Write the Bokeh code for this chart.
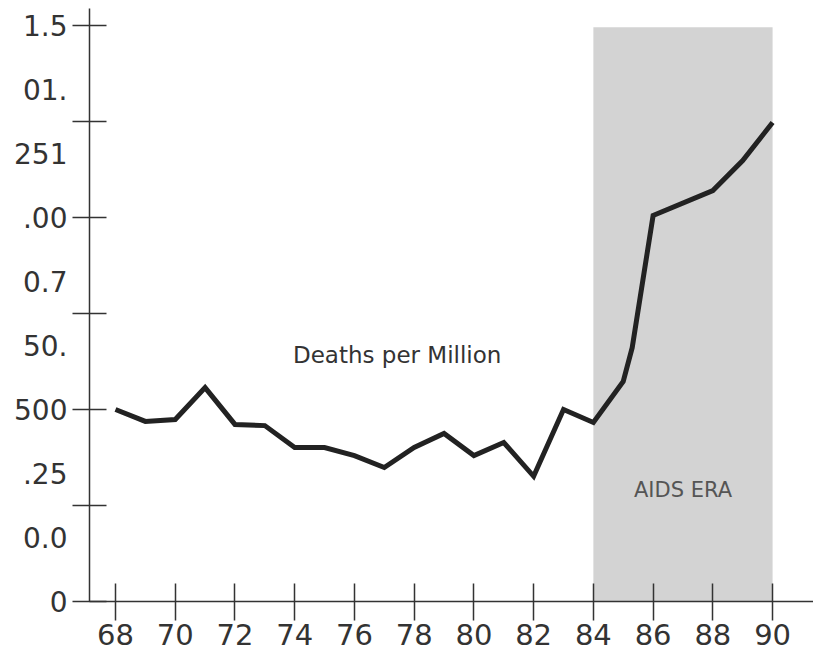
from bokeh.plotting import figure
from bokeh.models import FixedTicker, Range1d
from bokeh.core.properties import value
from bokeh.embed import file_html
from bokeh.resources import INLINE

years = [68, 69, 70, 71, 72, 73, 74, 75, 76, 77, 78, 79, 80, 81, 82, 83, 84, 85, 85.3, 86, 88, 89, 90]
deaths = [0.500, 0.469, 0.474, 0.557, 0.461, 0.458, 0.401, 0.401, 0.380, 0.349, 0.401, 0.4375,
          0.380, 0.414, 0.326, 0.500, 0.466, 0.573, 0.661, 1.005, 1.070, 1.148, 1.247]

x_ticks = [68, 70, 72, 74, 76, 78, 80, 82, 84, 86, 88, 90]
y_label_pos = [k / 6 for k in range(10)]
y_labels = ["0", "0.0", ".25", "500", "50.", "0.7", ".00", "251", "01.", "1.5"]
y_tick_marks = [0, 0.25, 0.5, 0.75, 1.0, 1.25, 1.5]

era_start, era_end, era_top = 84, 90, 1.495
era_label = "AIDS ERA"
title_text = "Deaths per Million"

FONT = "DejaVu Sans"

p = figure(width=813, height=650, output_backend="svg", toolbar_location=None,
           x_range=Range1d(67.13, 91.37), y_range=Range1d(0, 1.544),
           min_border_left=89, min_border_right=0, min_border_top=8, min_border_bottom=49)
p.outline_line_color = None
p.xgrid.visible = False
p.ygrid.visible = False
p.background_fill_color = "white"
p.border_fill_color = "white"

p.quad(left=[era_start], right=[era_end], bottom=[0], top=[era_top],
       fill_color="#d3d3d3", line_color=None)

p.line(years, deaths, line_color="#222222", line_width=5, line_join="miter")

p.text(x=[77.43], y=[0.643], text=[title_text], text_font=value(FONT),
       text_font_size="23px", text_color="#333333", text_align="center", text_baseline="middle")
p.text(x=[(era_start + era_end) / 2], y=[0.29], text=[era_label], text_font=value(FONT),
       text_font_size="21px", text_color="#555555", text_align="center", text_baseline="middle")

xa = p.xaxis[0]
xa.ticker = FixedTicker(ticks=x_ticks, minor_ticks=[])
xa.major_tick_in = 18
xa.major_tick_out = 19
xa.major_label_standoff = 3
xa.major_label_text_font = FONT
xa.major_label_text_font_size = "29px"
xa.major_label_text_color = "#333333"
xa.axis_line_color = "#333333"
xa.major_tick_line_color = "#333333"
xa.axis_line_width = 1.5
xa.major_tick_line_width = 1.5

ya = p.yaxis[0]
ya.ticker = FixedTicker(ticks=y_label_pos, minor_ticks=y_tick_marks)
ya.major_label_overrides = {pos: lab for pos, lab in zip(y_label_pos, y_labels)}
ya.major_tick_in = 0
ya.major_tick_out = 0
ya.minor_tick_in = 17
ya.minor_tick_out = 17
ya.minor_tick_line_color = "#333333"
ya.minor_tick_line_width = 1.5
ya.major_label_standoff = 5
ya.major_label_text_font = FONT
ya.major_label_text_font_size = "28px"
ya.major_label_text_color = "#333333"
ya.axis_line_color = "#333333"
ya.axis_line_width = 1.5

open("out.html", "w").write(file_html(p, INLINE))
